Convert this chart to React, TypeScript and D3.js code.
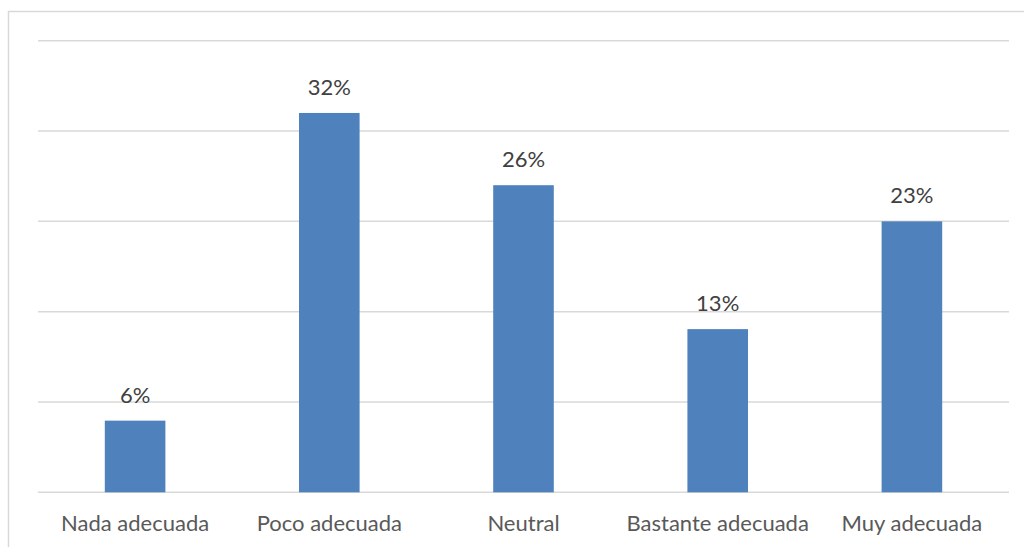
import { useRef, useEffect } from 'react';
import * as d3 from 'd3';

const categories = ['Nada adecuada', 'Poco adecuada', 'Neutral', 'Bastante adecuada', 'Muy adecuada'];
const values = [5.95, 31.5, 25.5, 13.55, 22.5];
const valueLabels = ['6%', '32%', '26%', '13%', '23%'];
const tickValues = [0, 7.5, 15, 22.5, 30, 37.5];

const width = 1024;
const height = 547;
const fontFamily = "Lato, 'Open Sans', sans-serif";

export default function App() {
  const svgRef = useRef<SVGSVGElement>(null);

  useEffect(() => {
    const svg = d3.select(svgRef.current);
    svg.selectAll('*').remove();

    const plot = { left: 38, right: 1009, top: 40.7, bottom: 492.3 };

    // outer chart frame (runs off the right and bottom edges)
    svg.append('rect')
      .attr('x', 8.5)
      .attr('y', 11.5)
      .attr('width', 1040)
      .attr('height', 600)
      .attr('fill', '#ffffff')
      .attr('stroke', '#D9D9D9')
      .attr('stroke-width', 1.5);

    const x = d3.scaleBand<string>()
      .domain(categories)
      .range([plot.left, plot.right])
      .paddingInner(0.688)
      .paddingOuter(0.344);

    const y = d3.scaleLinear().domain([0, 37.5]).range([plot.bottom, plot.top]);

    // gridlines
    svg.append('g')
      .selectAll('line')
      .data(tickValues)
      .join('line')
      .attr('x1', plot.left)
      .attr('x2', plot.right)
      .attr('y1', (d) => y(d))
      .attr('y2', (d) => y(d))
      .attr('stroke', '#D9D9D9')
      .attr('stroke-width', 1.5);

    // bars
    svg.append('g')
      .selectAll('rect')
      .data(values)
      .join('rect')
      .attr('x', (_d, i) => x(categories[i])!)
      .attr('y', (d) => y(d))
      .attr('width', x.bandwidth())
      .attr('height', (d) => y(0) - y(d))
      .attr('fill', '#4F81BD');

    // data labels
    svg.append('g')
      .selectAll('text')
      .data(values)
      .join('text')
      .attr('x', (_d, i) => x(categories[i])! + x.bandwidth() / 2)
      .attr('y', (d) => y(d) - 18)
      .attr('text-anchor', 'middle')
      .attr('fill', '#404040')
      .attr('font-size', '22px')
      .attr('font-family', fontFamily)
      .text((_d, i) => valueLabels[i]);

    // category axis labels
    svg.append('g')
      .selectAll('text')
      .data(categories)
      .join('text')
      .attr('x', (d) => x(d)! + x.bandwidth() / 2)
      .attr('y', 531)
      .attr('text-anchor', 'middle')
      .attr('fill', '#595959')
      .attr('font-size', '22px')
      .attr('font-family', fontFamily)
      .text((d) => d);
  }, []);

  return (
    <svg
      ref={svgRef}
      width={width}
      height={height}
      viewBox={`0 0 ${width} ${height}`}
      style={{ position: 'fixed', left: 0, top: 0, display: 'block', background: '#ffffff' }}
    />
  );
}
